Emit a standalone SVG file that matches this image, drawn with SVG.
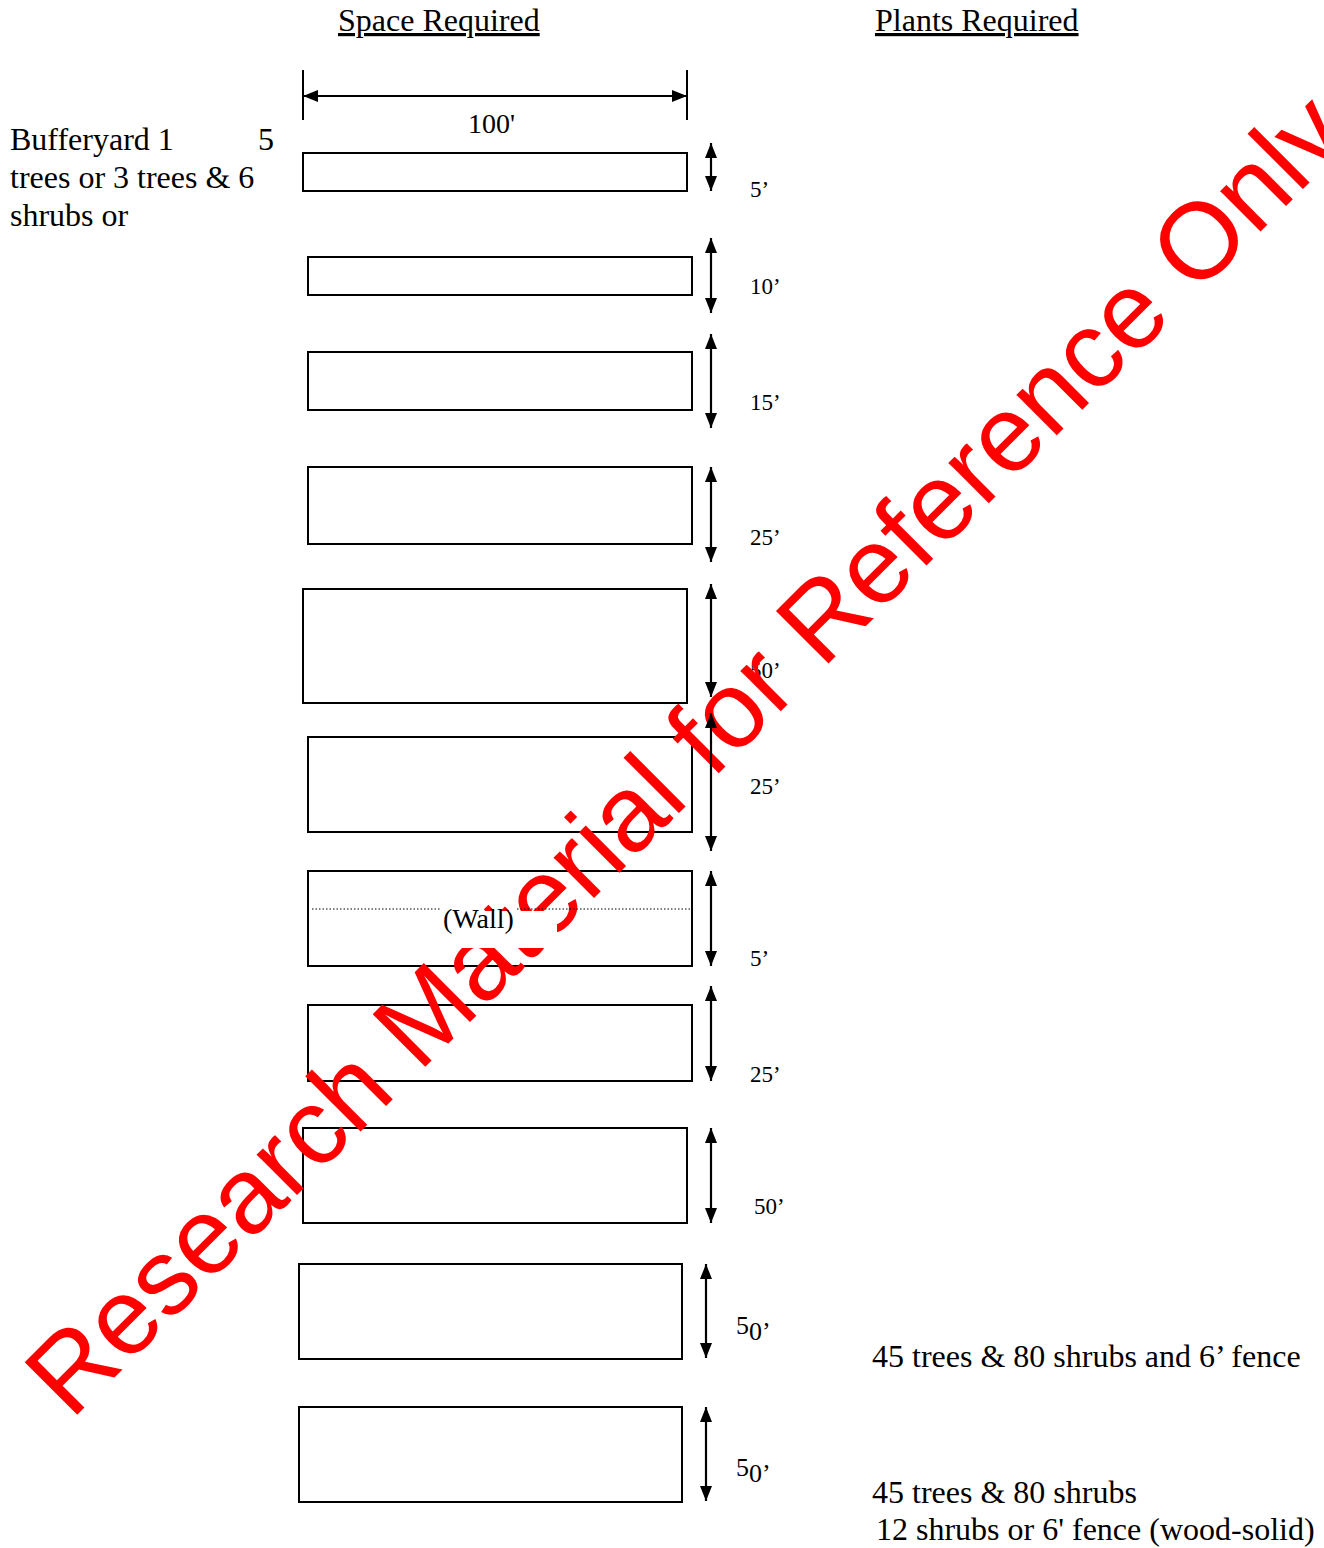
<svg xmlns="http://www.w3.org/2000/svg" width="1324" height="1548" viewBox="0 0 1324 1548">
<style>
text{font-family:"Liberation Serif","Times New Roman",serif;fill:#000}
.big{font-size:32px}
.dim{font-size:23px}
.box{fill:#fff;stroke:#000;stroke-width:2}
.arr{stroke:#000;stroke-width:2.2;fill:none;marker-start:url(#ah);marker-end:url(#ah)}
.wm{font-family:"Liberation Sans",Arial,sans-serif;font-size:108px;fill:#ff0000}
</style>
<defs>
<marker id="ah" markerUnits="userSpaceOnUse" markerWidth="15" markerHeight="12" refX="15" refY="6" orient="auto-start-reverse">
<path d="M0,0 L15,6 L0,12 z" fill="#000"/>
</marker>
</defs>
<rect width="1324" height="1548" fill="#fff"/>

<g id="titles">
<text class="big" x="338" y="31" text-decoration="underline">Space Required</text>
<text class="big" x="875" y="31" text-decoration="underline">Plants Required</text>
</g>

<g id="bufferyard-label">
<text class="big" x="10" y="150">Bufferyard 1</text>
<text class="big" x="258" y="150">5</text>
<text class="big" x="10" y="188">trees or 3 trees &amp; 6</text>
<text class="big" x="10" y="226">shrubs or</text>
</g>

<g id="width-dimension">
<line x1="303" y1="70" x2="303" y2="120" stroke="#000" stroke-width="2"/>
<line x1="687" y1="70" x2="687" y2="120" stroke="#000" stroke-width="2"/>
<line x1="303" y1="96" x2="687" y2="96" class="arr"/>
<text x="468" y="133" style="font-size:28px">100'</text>
</g>

<g id="bands">
<rect id="band1" class="box" x="303" y="153" width="384" height="38"/>
<rect id="band2" class="box" x="308" y="257" width="384" height="38"/>
<rect id="band3" class="box" x="308" y="352" width="384" height="58"/>
<rect id="band4" class="box" x="308" y="467" width="384" height="77"/>
<rect id="band5" class="box" x="303" y="589" width="384" height="114"/>
<rect id="band6" class="box" x="308" y="737" width="384" height="95"/>
<rect id="band7" class="box" x="308" y="871" width="384" height="95"/>
<rect id="band8" class="box" x="308" y="1005" width="384" height="76"/>
<rect id="band9" class="box" x="303" y="1128" width="384" height="95"/>
<rect id="band10" class="box" x="299" y="1264" width="383" height="95"/>
<rect id="band11" class="box" x="299" y="1407" width="383" height="95"/>
</g>

<g id="connectors">
<line class="arr" x1="711" y1="143" x2="711" y2="191"/>
<line class="arr" x1="711" y1="238" x2="711" y2="313"/>
<line class="arr" x1="711" y1="334" x2="711" y2="428"/>
<line class="arr" x1="711" y1="467" x2="711" y2="562"/>
<line class="arr" x1="711" y1="584" x2="711" y2="697"/>
<line class="arr" x1="711" y1="871" x2="711" y2="966"/>
<line class="arr" x1="711" y1="986" x2="711" y2="1081"/>
<line class="arr" x1="711" y1="1128" x2="711" y2="1223"/>
<line class="arr" x1="706" y1="1264" x2="706" y2="1358"/>
<line class="arr" x1="706" y1="1407" x2="706" y2="1501"/>
</g>

<g id="dim-labels">
<text class="dim" x="750" y="197">5’</text>
<text class="dim" x="750" y="294">10’</text>
<text class="dim" x="750" y="410">15’</text>
<text class="dim" x="750" y="545">25’</text>
<text class="dim" x="750" y="678">50’</text>
<text class="dim" x="750" y="794">25’</text>
<text class="dim" x="750" y="966">5’</text>
<text class="dim" x="750" y="1082">25’</text>
<text class="dim" x="754" y="1214">50’</text>
<text x="736" y="1334" style="font-size:26px">5<tspan dy="6">0’</tspan></text>
<text x="736" y="1476" style="font-size:26px">5<tspan dy="6">0’</tspan></text>
</g>

<g id="plants">
<text class="big" x="872" y="1367">45 trees &amp; 80 shrubs and 6’ fence</text>
<text class="big" x="872" y="1503">45 trees &amp; 80 shrubs</text>
<text class="big" x="876" y="1540">12 shrubs or 6' fence (wood-solid)</text>
</g>

<g id="watermark">
<text class="wm" transform="translate(71,1421) rotate(-45)" x="0" y="0">Research Material for Reference Only</text>
</g>

<g id="arrow-over">
<line class="arr" x1="711" y1="713" x2="711" y2="851"/>
</g>

<g id="wall">
<line x1="312" y1="909" x2="440" y2="909" stroke="#000" stroke-width="1.2" stroke-dasharray="1.5,2"/>
<rect x="438" y="911" width="119" height="37" fill="#fff"/>
<line x1="517" y1="909" x2="690" y2="909" stroke="#000" stroke-width="1.2" stroke-dasharray="1.5,2"/>
<text x="443" y="928" style="font-size:28px">(Wall)</text>
</g>
</svg>
